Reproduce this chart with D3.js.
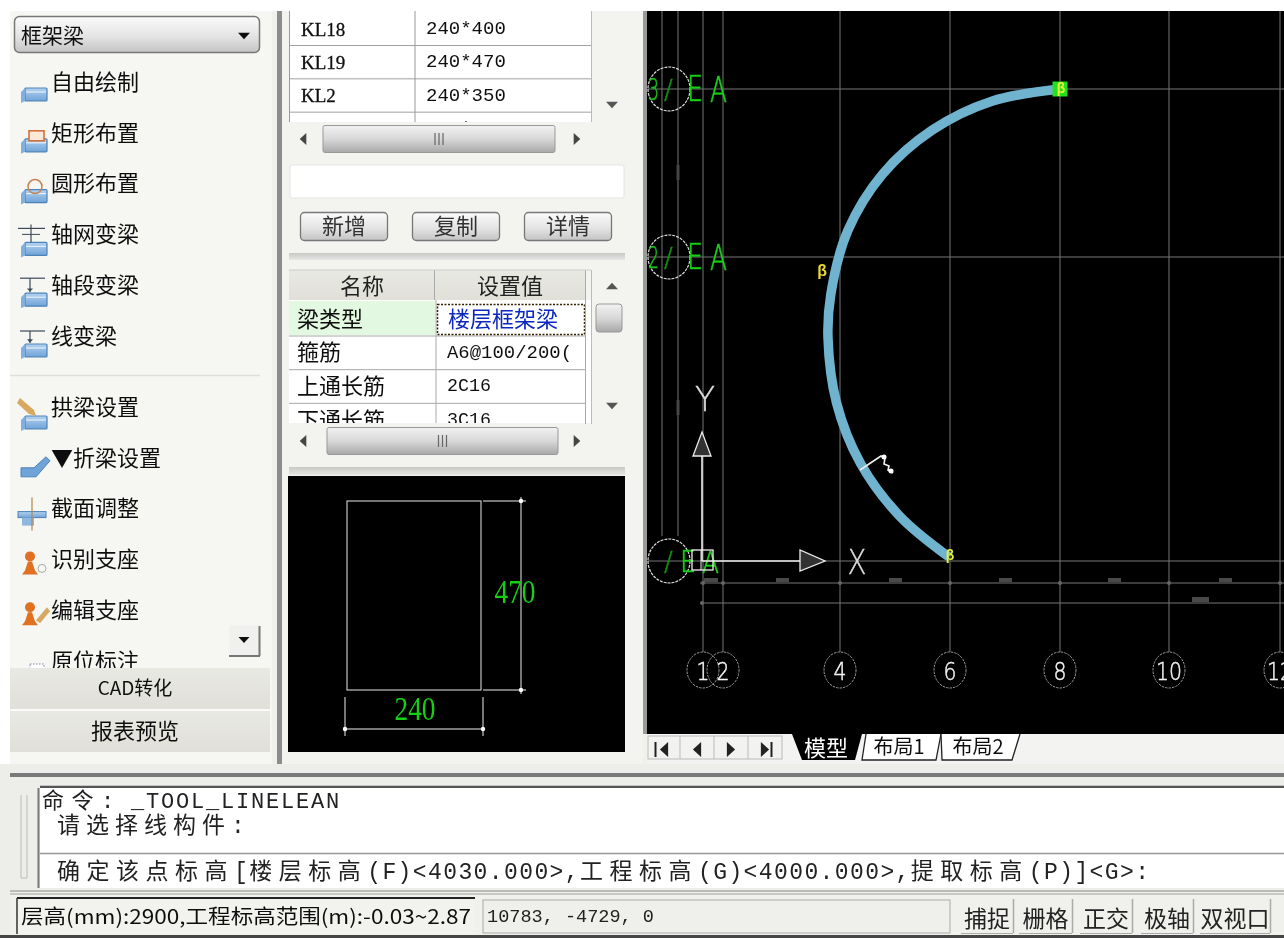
<!DOCTYPE html>
<html><head><meta charset="utf-8">
<script src="https://cdn.jsdelivr.net/npm/d3@7"></script>
<style>html,body{margin:0;padding:0;background:#fff;overflow:hidden}svg{display:block}</style>
</head><body><div id="c"></div>
<script>
// ---- data ----
const menuTop=["自由绘制","矩形布置","圆形布置","轴网变梁","轴段变梁","线变梁"];
const menuBottom=["拱梁设置","▼折梁设置","截面调整","识别支座","编辑支座","原位标注"];
const beamNames=["KL18","KL19","KL2","KL20"];
const beamSizes=["240*400","240*470","240*350","240*400"];
const actionButtons=["新增","复制","详情"];
const propNames=["梁类型","箍筋","上通长筋","下通长筋"];
const propValues=["楼层框架梁","A6@100/200(","2C16","3C16"];
const axisNumbers=["1","2","4","6","8","10","12"];
const axisPositions=[0,1000,6850,12350,17850,23300,28850];   // model mm
const rowLabels=["3","2",""];
const rowPositions=[23600,15200,0];                          // model mm
const arcX=[17850,14440,11465,8985,7240,6390,6250,6675,7880,9840,12300];
const arcY=[23600,22990,21550,19350,16515,13330,11150,7915,4875,2240,200];
const sectionSize=[240,470];
const dimMarksUpper=[3950,9600,15100,20550,26100];
const dimMarksLower=[24850];
const tabs=["模型","布局1","布局2"];
const statusButtons=["捕捉","栅格","正交","极轴","双视口"];
const commandLines=["命令: _TOOL_LINELEAN","请选择线构件:","确定该点标高[楼层标高(F)<4030.000>,工程标高(G)<4000.000>,提取标高(P)]<G>:"];
const statusText=["层高(mm):2900,工程标高范围(m):-0.03~2.87","10783, -4729, 0"];

// ---- setup ----
const W=1284,H=938;
const CJK='"Noto Sans CJK SC","Noto Sans",sans-serif';
const MONO='"Liberation Mono","Noto Sans CJK SC",monospace';
const THIN='"DejaVu Sans",sans-serif';
const svg=d3.select("#c").append("svg").attr("width",W).attr("height",H).attr("viewBox",[0,0,W,H]);
const defs=svg.append("defs");
function grad(id,stops){const g=defs.append("linearGradient").attr("id",id).attr("x1",0).attr("y1",0).attr("x2",0).attr("y2",1);
  stops.forEach(([o,c])=>g.append("stop").attr("offset",o).attr("stop-color",c));}
grad("btn",[[0,"#fbfbfb"],[.55,"#e4e4e4"],[1,"#c4c4c4"]]);
grad("bar",[[0,"#e9e9e3"],[1,"#e0e0d9"]]);
grad("thumb",[[0,"#f2f2f2"],[.5,"#d8d8d8"],[1,"#a8a8a8"]]);
grad("sep",[[0,"#c8c8c6"],[1,"#e6e6e4"]]);
grad("beam",[[0,"#b4d2f0"],[1,"#6fa3d8"]]);
const blur=defs.append("filter").attr("id","soft").attr("x","-5%").attr("y","-5%").attr("width","110%").attr("height","110%");
blur.append("feGaussianBlur").attr("stdDeviation",0.45);
const clips={top:[289,11,302,111],t2:[289,270,302,153],menu:[10,60,260,608],cad:[647,11,637,723]};
Object.entries(clips).forEach(([k,[x,y,w,h]])=>defs.append("clipPath").attr("id","clip-"+k).append("rect").attr("x",x).attr("y",y).attr("width",w).attr("height",h));

const root=svg.append("g").attr("filter","url(#soft)");
function rect(g,x,y,w,h,fill,stroke,sw,r){const e=g.append("rect").attr("x",x).attr("y",y).attr("width",w).attr("height",h).attr("fill",fill||"none");
  if(stroke)e.attr("stroke",stroke).attr("stroke-width",sw||1); if(r)e.attr("rx",r); return e;}
function line(g,x1,y1,x2,y2,c,sw){return g.append("line").attr("x1",x1).attr("y1",y1).attr("x2",x2).attr("y2",y2).attr("stroke",c).attr("stroke-width",sw||1);}
function text(g,x,y,s,size,o={}){const dy=o.font?0:-size*0.1;
  const e=g.append("text").attr("x",x).attr("y",y+dy).attr("font-size",size).attr("font-family",o.font||CJK)
  .attr("fill",o.fill||"#111").attr("text-anchor",o.anchor||"start").attr("dominant-baseline","central").text(s);
  if(o.len)e.attr("textLength",o.len).attr("lengthAdjust","spacingAndGlyphs"); if(o.weight)e.attr("font-weight",o.weight);
  if(o.bolden)e.attr("stroke",o.fill||"#111").attr("stroke-width",o.bolden); return e;}
// one text element with a fixed cell pitch: wide characters take a wider cell
function cellText(g,x0,y,s,size,wide,narrow,fill){
  let cx=x0;const xs=Array.from(s).map(ch=>{const p=cx;cx+=ch.charCodeAt(0)>255?wide:narrow;return p;});
  return g.append("text").attr("x",xs.join(" ")).attr("y",y).attr("font-size",size).attr("font-family",MONO).attr("fill",fill||"#222").attr("dominant-baseline","central").text(s);
}
function tri(g,cx,cy,s,dir,c){const p={d:[[-s,-s*.55],[s,-s*.55],[0,s*.55]],u:[[-s,s*.55],[s,s*.55],[0,-s*.55]],l:[[s*.55,-s],[s*.55,s],[-s*.55,0]],r:[[-s*.55,-s],[-s*.55,s],[s*.55,0]]}[dir];
  g.append("path").attr("d",d3.line()(p.map(([a,b])=>[cx+a,cy+b]))+"Z").attr("fill",c||"#222");}

// ---- base panels ----
rect(root,0,0,W,H,"#fff");
rect(root,10,11,W-10,H-11,"#f0f0ec");
rect(root,10,11,262,757,"#f6f6f3");
rect(root,277,11,5,757,"#8c8c8c");
rect(root,282,11,361,757,"#f3f3f0");
rect(root,643,11,4,723,"#9a9a9a");

// ---- left panel ----
const left=root.append("g");
rect(left,14.5,16.5,245,36,"url(#btn)","#777",1.5,5);
text(left,21,36,"框架梁",21);
tri(left,244,36,6,"d","#111");
const menuClip=left.append("g").attr("clip-path","url(#clip-menu)");
const yTop=d3.scaleLinear().domain([0,5]).range([82,336]);
const yBot=d3.scaleLinear().domain([0,5]).range([407,661]);
function icon(g,i,y,group){
  const b=g.append("g").attr("transform",`translate(20,${y})`);
  const beam=(t=0)=>{rect(b,5,t,22,13,"url(#beam)","#4c82b8",1.2,1);line(b,6,t+4,26,t+4,"#e6f0fa",1.2);
    b.append("path").attr("d",`M1,${t+4} L5,${t} L5,${t+13} L1,${t+15}Z`).attr("fill","#7fb0e0");};
  if(group==="top"){
    beam(i<3?1:3);
    if(i===1)rect(b,9,-7,15,10,"#fbe9d8","#d4713a",1.6);
    if(i===2)b.append("circle").attr("cx",15).attr("cy",-2).attr("r",7).attr("fill","none").attr("stroke","#c9834f").attr("stroke-width",1.5);
    if(i===3){line(b,-2,-11,25,-11,"#3c4a58",1.2);line(b,11,-15,11,3,"#3c4a58",1.2);line(b,2,-5,20,-5,"#3c4a58",1);}
    if(i===4){line(b,0,-12,25,-12,"#3c4a58",1.2);line(b,10,-12,10,2,"#3c4a58",1.2);tri(b,10,0,3,"d","#3c4a58");}
    if(i===5){line(b,0,-10,25,-10,"#3c4a58",1.2);line(b,10,-10,10,2,"#3c4a58",1.2);tri(b,10,0,3,"d","#3c4a58");}
  }else{
    if(i===0){beam(4);b.append("path").attr("d","M0,-14 L14,-2 L16,4 L9,2 L-3,-9Z").attr("fill","#d8a860");}
    if(i===1){b.append("path").attr("d","M1,5 L14,5 L26,-6 L30,-2 L16,14 L1,14Z").attr("fill","#6fa3d8").attr("stroke","#4c82b8");}
    if(i===2){rect(b,-2,-2,28,6,"url(#beam)","#4c82b8",1);rect(b,2,4,12,8,"#8fb8e0");line(b,12,-16,12,17,"#b08850",1.2);}
    if(i===3||i===4){b.append("circle").attr("cx",10).attr("cy",-8).attr("r",5).attr("fill","#e07020");
      b.append("path").attr("d","M2,10 L5,6 L8,-3 L12,-3 L15,6 L18,10Z").attr("fill","#e07020");}
    if(i===3){b.append("circle").attr("cx",22).attr("cy",4).attr("r",4).attr("fill","none").attr("stroke","#aaa");}
    if(i===4){b.append("path").attr("d","M16,5 L27,-8 L30,-4 L20,8Z").attr("fill","#d8a860");}
    if(i===5){line(b,-2,7,10,7,"#446",1.2);rect(b,10,-2,14,8,"#fff","#789",1).attr("stroke-dasharray","1.5 1.5");}
  }
}
menuTop.forEach((s,i)=>{const y=yTop(i);icon(menuClip,i,y+5,"top");text(menuClip,51,y,s,22);});
line(left,10,375.5,260,375.5,"#dededa",1.5);
menuBottom.forEach((s,i)=>{const y=yBot(i);icon(menuClip,i,y+5,"bot");text(menuClip,51,y,s,22);});
rect(left,229.5,625.5,30,31,"#f0f0ee");
line(left,229,656,260,656,"#777",2);line(left,259.5,626,259.5,656,"#777",2);
tri(left,244,640,5.5,"d","#111");
rect(left,10,668,260,41,"url(#bar)");
rect(left,10,711,260,41,"url(#bar)");
line(left,10,710,270,710,"#fafafa",2);
text(left,135,688,"CAD转化",19,{anchor:"middle"});
text(left,135,731,"报表预览",22,{anchor:"middle"});

// ---- middle: beam list ----
const mid=root.append("g");
const t1=mid.append("g").attr("clip-path","url(#clip-top)");
rect(t1,289,11,302,111,"#fff");
const yRow=d3.scaleLinear().domain([0,3]).range([29,129]);
beamNames.forEach((s,i)=>{const y=yRow(i);
  line(t1,289,y+16.5,591,y+16.5,"#a0a0a0",1);
  text(t1,301,y,s,19,{font:'"Liberation Serif",serif',bolden:0.3});
  text(t1,426,y,beamSizes[i],19,{font:'"Liberation Mono",monospace',len:beamSizes[i].length*11.4});
});
line(mid,289.5,11,289.5,122,"#999",1);
line(t1,415,11,415,122,"#999",1);
line(mid,591.5,11,591.5,122,"#bbb",1);
tri(mid,612,105,6,"d","#555");
function scrollbar(g,y,x1,x2){
  tri(g,303,y,6,"l","#444");tri(g,577,y,6,"r","#444");
  rect(g,x1,y-13.5,x2-x1,27,"url(#thumb)","#999",1,2);
  [-4,0,4].forEach(d=>line(g,(x1+x2)/2+d,y-6,(x1+x2)/2+d,y+6,"#666",1.2));
}
scrollbar(mid,139,323,555);
rect(mid,290,165,334,33,"#fff","#e4e4e2",1,2);
const btnX=d3.scaleLinear().domain([0,2]).range([300,524]);
actionButtons.forEach((s,i)=>{const x=btnX(i);
  rect(mid,x+.5,212.5,87,28,"url(#btn)","#777",1.3,4);
  text(mid,x+44,226,s,22,{anchor:"middle",fill:"#333"});
});
rect(mid,289,253,336,7,"url(#sep)");

// ---- middle: property table ----
const t2=mid.append("g").attr("clip-path","url(#clip-t2)");
rect(t2,289,300,302,124,"#fff");
rect(mid,289,270,296,30,"url(#bar)");
text(mid,362,286,"名称",22,{anchor:"middle",fill:"#222"});
text(mid,510,286,"设置值",22,{anchor:"middle",fill:"#222"});
line(mid,434.5,270,434.5,300,"#aaa",1);
line(mid,585.5,270,585.5,424,"#aaa",1);
line(mid,591.5,270,591.5,424,"#bbb",1);
line(mid,289,270,591,270,"#ccc",1);
rect(t2,289,301,146,34,"#e2f8e0");
const yProp=d3.scaleLinear().domain([0,3]).range([319,420]);
propNames.forEach((s,i)=>{const y=yProp(i);
  text(t2,297,y,s,22,{fill:"#111"});
  const big=i===0;
  text(t2,big?448:447,y,propValues[i],big?22:18,{fill:big?"#0a28c0":"#111",font:big?undefined:MONO,
    len:big?undefined:{1:125,2:44,3:44}[i]});
  if(i<3)line(t2,289,y+17,585,y+17,"#a8a8a8",1);
});
line(t2,436,300,436,424,"#aaa",1);
rect(t2,437.5,304.5,147,30,"none","#332200",1.5).attr("stroke-dasharray","2 1.5");
rect(mid,596,304,26,28,"url(#thumb)","#999",1,3);
tri(mid,612,286,6,"u","#555");
tri(mid,612,406,6,"d","#555");
scrollbar(mid,441,327,558);
rect(mid,289,467,336,8,"url(#sep)");

// ---- section preview ----
const prev=root.append("g");
rect(prev,288,476,337,276,"#000");
const sx=d3.scaleLinear().domain([0,sectionSize[0]]).range([347,481]);
const sy=d3.scaleLinear().domain([0,sectionSize[1]]).range([690,501]);
rect(prev,sx(0),sy(sectionSize[1]),sx(sectionSize[0])-sx(0),sy(0)-sy(sectionSize[1]),"none","#e8e8e8",1);
line(prev,483,sy(sectionSize[1]),526,sy(sectionSize[1]),"#eee",1);
line(prev,483,sy(0),526,sy(0),"#eee",1);
line(prev,521,sy(sectionSize[1])-4,521,sy(0)+4,"#eee",1);
line(prev,sx(0)-2,729,sx(sectionSize[0])+2,729,"#eee",1);
line(prev,sx(0)-2,697,sx(0)-2,736,"#eee",1);
line(prev,sx(sectionSize[0])+2,697,sx(sectionSize[0])+2,736,"#eee",1);
[[521,sy(sectionSize[1])],[521,sy(0)],[sx(0)-2,729],[sx(sectionSize[0])+2,729]].forEach(([x,y])=>
  prev.append("circle").attr("cx",x).attr("cy",y).attr("r",2.2).attr("fill","#fff"));
text(prev,515,592,String(sectionSize[1]),33,{anchor:"middle",fill:"#18d018",font:'"Liberation Serif",serif',len:41});
text(prev,415,709,String(sectionSize[0]),33,{anchor:"middle",fill:"#18d018",font:'"Liberation Serif",serif',len:41});

// ---- CAD canvas ----
const cad=root.append("g");
rect(cad,647,11,637,723,"#000");
const draw=cad.append("g").attr("clip-path","url(#clip-cad)");
const x=d3.scaleLinear().domain([0,28850]).range([703,1280]);
const y=d3.scaleLinear().domain([0,23600]).range([561,89]);
const GRID="#757575";
[-2050,-1250].forEach(v=>line(draw,x(v),11,x(v),536,GRID,1));
line(draw,678,165,678,180,"#444",3);line(draw,678,400,678,415,"#444",3);
axisPositions.forEach(v=>line(draw,x(v),11,x(v),652,GRID,1));
rowPositions.forEach(v=>line(draw,648,y(v),1284,y(v),GRID,1.2));
line(draw,700,583,1284,583,GRID,1.2);
line(draw,700,603,1284,603,GRID,1.2);
dimMarksUpper.forEach(v=>rect(draw,x(v)-6,578,13,4,"#4a4a4a"));
dimMarksLower.forEach(v=>rect(draw,x(v)-8,597,17,5,"#4a4a4a"));
rect(draw,704,578,14,4,"#4a4a4a");
axisPositions.forEach(v=>draw.append("circle").attr("cx",x(v)).attr("cy",583).attr("r",2).attr("fill","#666"));
draw.append("circle").attr("cx",702).attr("cy",603).attr("r",2).attr("fill","#666");
// arc
const arcPts=arcX.map((v,i)=>[x(v),y(arcY[i])]);
draw.append("path").attr("d",d3.line().curve(d3.curveCatmullRom)(arcPts)).attr("fill","none").attr("stroke","#6fb3cf").attr("stroke-width",9.5);
// end grips
rect(draw,x(17850)-7.5,y(23600)-7.5,15,15,"#22e022");
text(draw,x(17850)+1,y(23600),"β",14,{anchor:"middle",fill:"#f0f040",font:MONO,weight:700});
text(draw,x(12300)+1,y(200)-1,"β",14,{anchor:"middle",fill:"#e6f040",font:MONO,weight:700});
text(draw,822,272,"β",16,{anchor:"middle",fill:"#e8d830",font:MONO,weight:700});
// row bubbles
const eX=[687,687,680],aX=[710,710,702],gSize=[35,35,31];
rowPositions.forEach((v,i)=>{const cy=y(v);
  draw.append("ellipse").attr("cx",669).attr("cy",cy).attr("rx",21).attr("ry",22).attr("fill","none").attr("stroke","#ddd").attr("stroke-width",1.2).attr("stroke-dasharray","3 1");
  if(rowLabels[i])text(draw,648,cy,rowLabels[i],30,{fill:"#1cc01c",font:THIN,weight:200,len:11,bolden:0.6});
  text(draw,664,cy+1,"/",26,{fill:"#149014",font:THIN,weight:200,bolden:0.5});
  text(draw,eX[i],cy,"E",gSize[i],{fill:"#18d018",font:THIN,weight:200,len:16,bolden:0.6});
  text(draw,aX[i],cy+1,"A",gSize[i],{fill:"#18d018",font:THIN,weight:200,len:17,bolden:0.6});
});
// UCS icon
line(draw,702,456,702,561,"#eee",1.6);
line(draw,702,561,801,561,"#eee",1.6);
draw.append("path").attr("d","M693,456 L711,456 L702,432Z").attr("fill","#333").attr("stroke","#eee").attr("stroke-width",1.3);
draw.append("path").attr("d","M800,550 L800,571 L825,561Z").attr("fill","#333").attr("stroke","#eee").attr("stroke-width",1.3);
rect(draw,692,550,21,20,"none","#eee",1.3);
line(draw,701,550,701,570,"#eee",1);
text(draw,705,399,"Y",34,{anchor:"middle",fill:"#ddd",font:THIN,weight:200,len:20,bolden:0.4});
text(draw,857,562,"X",34,{anchor:"middle",fill:"#ddd",font:THIN,weight:200,len:19,bolden:0.4});
// column bubbles
axisNumbers.forEach((s,i)=>{const cx=x(axisPositions[i]);
  draw.append("ellipse").attr("cx",cx).attr("cy",670).attr("rx",16).attr("ry",18).attr("fill","none").attr("stroke","#999").attr("stroke-width",1).attr("stroke-dasharray","2.5 1");
  text(draw,cx,671,s,25,{anchor:"middle",fill:"#f2f2f2",font:THIN,weight:200,len:s.length*13,bolden:0.5});
});
// cursor
draw.append("path").attr("d","M860,470 L881,456 L885,458 L884,464 L889,466 L888,470 L893,473").attr("fill","none").attr("stroke","#eee").attr("stroke-width",1.6);
draw.append("circle").attr("cx",884).attr("cy",457).attr("r",2.5).attr("fill","#fff");
draw.append("circle").attr("cx",891).attr("cy",471).attr("r",2.5).attr("fill","#fff");

// ---- tabs ----
const tb=root.append("g");
rect(tb,647,734,637,30,"#f3f3f1");
rect(tb,648,736,134,23,"#f2f2f0","#bbb",1);
[680,714,748].forEach(v=>line(tb,v,736,v,759,"#bbb",1));
line(tb,655.5,742,655.5,757,"#222",2);tri(tb,664,749.5,7.5,"l","#222");
tri(tb,697,749.5,7.5,"l","#222");
tri(tb,731,749.5,7.5,"r","#222");
tri(tb,765,749.5,7.5,"r","#222");line(tb,771.5,742,771.5,757,"#222",2);
tb.append("path").attr("d","M792,734 L802,760 L855,760 L862,734Z").attr("fill","#000");
text(tb,826,748,tabs[0],22,{anchor:"middle",fill:"#fff"});
tb.append("path").attr("d","M866,734 L862,760 L936,760 L941,734").attr("fill","#fff").attr("stroke","#222").attr("stroke-width",1.3);
text(tb,899,747,tabs[1],20,{anchor:"middle",fill:"#111"});
tb.append("path").attr("d","M941,734 L942,760 L1012,760 L1020,734").attr("fill","#fff").attr("stroke","#222").attr("stroke-width",1.3);
text(tb,978,747,tabs[2],20,{anchor:"middle",fill:"#111"});

// ---- command window ----
const cmd=root.append("g");
rect(cmd,0,764,W,174,"#ededea");
rect(cmd,10,773,W-10,4,"#7a7a7a");
line(cmd,40,787,W,787,"#555",2.5);
rect(cmd,40,788,W-40,100,"#fff");
line(cmd,38.5,788,38.5,888,"#777",2);
line(cmd,21,795,21,878,"#bbb",1);line(cmd,27,795,27,878,"#bbb",1);line(cmd,21,878,27,878,"#bbb",1);
line(cmd,40,853.5,W,853.5,"#999",1.3);
cellText(cmd,42,802,commandLines[0],22,29.5,15);
cellText(cmd,57,827,commandLines[1],23,29,15);
cellText(cmd,57,873,commandLines[2],23,29.5,15.2);
line(cmd,10,891,W,891,"#aaa",1.5);
line(cmd,10,894,W,894,"#bbb",1.5);
rect(cmd,10,895,W-10,40,"#f0f0ec");
rect(cmd,17,898,458,36,"#f2f2ee");
line(cmd,17,898,475,898,"#222",2);line(cmd,17,898,17,934,"#333",1.5);
text(cmd,21,917,statusText[0],20,{len:450,fill:"#111"});
rect(cmd,483,900,467,33,"#efefec","#aaa",1);
text(cmd,487,917,statusText[1],19,{font:MONO,len:167,fill:"#222"});
const stX=[961,1019,1080,1141,1200],stW=[52,53,52,52,70];
statusButtons.forEach((s,i)=>{
  line(cmd,stX[i]+stW[i]+.5,899,stX[i]+stW[i]+.5,933,"#aaa",1.5);
  line(cmd,stX[i],933.5,stX[i]+stW[i],933.5,"#aaa",1);
  text(cmd,stX[i]+stW[i]/2,919,s,23,{anchor:"middle",fill:"#222"});
});
rect(cmd,0,935,W,3,"#444");
</script></body></html>
